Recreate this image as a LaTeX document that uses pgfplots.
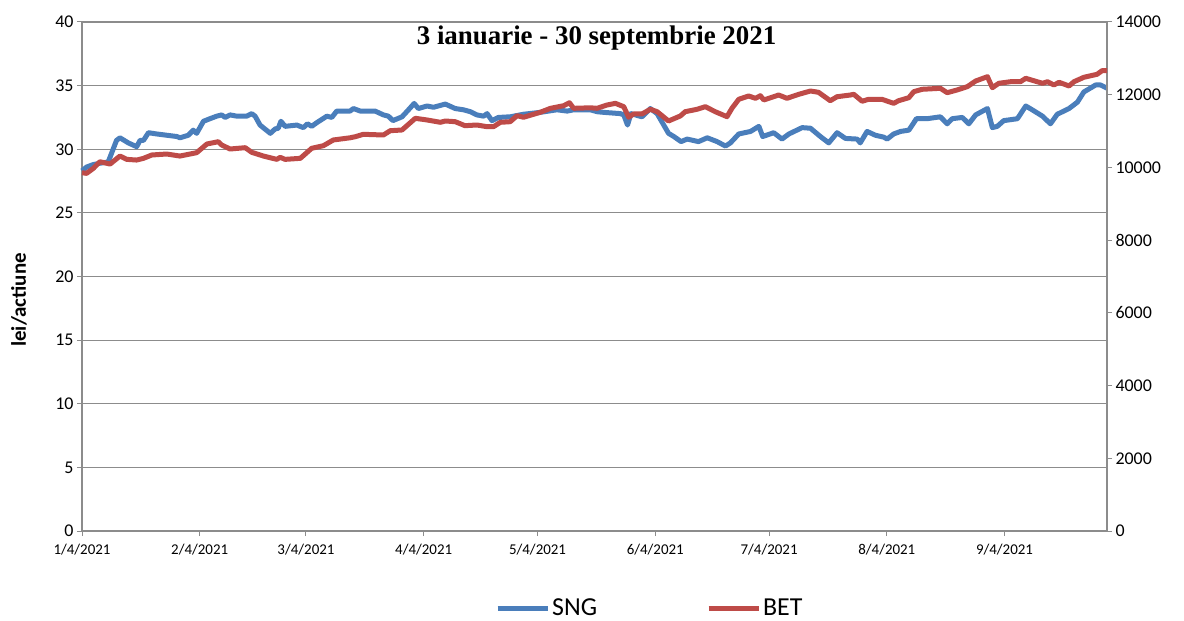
\documentclass[border=0pt]{standalone}
\usepackage{pgfplots}
\pgfplotsset{compat=1.18}
\usepackage{fontspec}
\setmainfont{Carlito}
\newfontfamily\timesf{Liberation Serif}
\definecolor{sngc}{HTML}{4A7EBB}
\definecolor{betc}{HTML}{BE4B48}
\definecolor{gridc}{HTML}{8C8C8C}
\begin{document}
\begin{tikzpicture}
\begin{axis}[
  name=ax,
  scale only axis, width=1025bp, height=509bp,
  xmin=0, xmax=270, ymin=0, ymax=40,
  axis y line*=left, axis x line*=bottom,
  axis line style={gridc, line width=1.2bp},
  xtick={0,31,59,90,120,151,181,212,243},
  xticklabels={1/4/2021,2/4/2021,3/4/2021,4/4/2021,5/4/2021,6/4/2021,7/4/2021,8/4/2021,9/4/2021},
  x tick label style={font=\fontsize{15}{17}\selectfont, yshift=-5bp},
  ytick={0,5,...,40},
  y tick label style={font=\fontsize{18}{20}\selectfont},
  /pgf/number format/assume math mode=true,
  tick style={gridc, line width=1bp},
  tick align=outside, major tick length=5bp,
  ymajorgrids, grid style={gridc, line width=1.2bp},
  clip=false,
]
\addplot[sngc, line width=5bp, line join=round] coordinates {
(0,28.3)(1.2,28.6)(3.0,28.8)(4.7,28.9)(6.9,29.0)(9.1,30.7)(10.0,30.9)(12.2,30.5)(14.4,30.2)(15.3,30.7)(16.2,30.7)(17.5,31.3)(19.7,31.2)(25.0,31.0)(25.8,30.9)(28.0,31.1)(29.3,31.5)(30.2,31.25)(32.0,32.2)(33.7,32.4)(35.5,32.6)(36.8,32.7)(37.7,32.5)(39.0,32.7)(40.8,32.6)(43.4,32.6)(44.7,32.8)(45.6,32.6)(46.9,31.9)(49.6,31.25)(50.9,31.6)(51.7,31.65)(52.4,32.2)(53.5,31.8)(56.6,31.9)(58.3,31.7)(59.4,32.0)(60.5,31.8)(61.9,32.1)(64.5,32.6)(65.8,32.5)(67.1,33.0)(70.6,33.0)(71.5,33.2)(73.3,33.0)(77.2,33.0)(79.4,32.7)(80.7,32.6)(81.9,32.25)(84.3,32.55)(86.0,33.1)(87.5,33.6)(88.6,33.2)(90.9,33.4)(92.6,33.3)(95.7,33.55)(98.3,33.2)(100.5,33.1)(102.3,32.95)(104.0,32.7)(105.8,32.6)(106.7,32.8)(108.0,32.25)(109.7,32.5)(112.8,32.55)(116.3,32.75)(120.7,32.9)(125.1,33.1)(127.8,33.0)(129.5,33.1)(133.9,33.1)(135.7,32.95)(137.4,32.9)(141.8,32.8)(142.7,32.7)(143.7,31.9)(144.6,32.8)(147.5,32.55)(149.7,33.2)(151.5,32.8)(154.5,31.25)(155.9,31.0)(157.8,30.6)(159.4,30.8)(162.4,30.6)(164.7,30.9)(167.3,30.6)(169.5,30.25)(170.8,30.5)(173.0,31.2)(176.1,31.4)(178.3,31.8)(179.3,31.0)(182.2,31.3)(184.4,30.8)(186.2,31.2)(189.7,31.7)(191.9,31.65)(194.5,31.0)(196.7,30.5)(198.9,31.3)(201.1,30.85)(204.2,30.8)(205.0,30.5)(206.8,31.4)(209.0,31.1)(211.2,30.95)(212.1,30.8)(213.8,31.2)(215.6,31.4)(217.8,31.5)(219.8,32.4)(222.6,32.4)(226.1,32.55)(227.9,32.0)(229.2,32.4)(231.9,32.5)(233.6,32.0)(235.4,32.7)(238.5,33.2)(239.8,31.7)(241.1,31.8)(242.8,32.25)(246.4,32.4)(248.6,33.4)(250.3,33.1)(253.0,32.6)(255.1,32.0)(256.9,32.75)(260.0,33.2)(262.2,33.7)(263.9,34.5)(267.0,35.05)(268.3,35.05)(270.0,34.8)
};
\node[font=\timesf\bfseries\fontsize{27}{30}\selectfont] at (rel axis cs:0.502,0.968) {3 ianuarie - 30 septembrie 2021};
\node[rotate=90, font=\bfseries\fontsize{21}{24}\selectfont] at ([xshift=-63bp]rel axis cs:0,0.454) {lei/actiune};
\end{axis}
\begin{axis}[
  scale only axis, width=1025bp, height=509bp,
  xmin=0, xmax=270, ymin=0, ymax=14000,
  axis y line*=right, axis x line=none,
  axis line style={gridc, line width=1.2bp},
  ytick={0,2000,...,14000},
  y tick label style={font=\fontsize{18}{20}\selectfont},
  /pgf/number format/assume math mode=true,
  /pgf/number format/1000 sep={},
  scaled y ticks=false,
  tick style={gridc, line width=1bp},
  tick align=outside, major tick length=5bp,
  legend style={at={(axis description cs:0.554,0)}, anchor=center, yshift=-77bp,
    draw=none, fill=none, legend columns=2, font=\fontsize{26}{28}\selectfont,
    /tikz/every even column/.append style={column sep=107bp}},
  legend image code/.code={\draw[#1] (0bp,0bp) -- (50bp,0bp);},
  clip=false,
]
\addlegendimage{sngc, line width=5bp}
\addlegendentry{SNG}
\addplot[betc, line width=5bp, line join=round] coordinates {
(0,9854)(1.2,9837)(3.0,9975)(4.7,10157)(7.4,10093)(10.0,10313)(11.8,10222)(14.4,10203)(16.2,10250)(18.4,10342)(22.3,10369)(25.8,10313)(30.2,10405)(32.9,10644)(35.9,10708)(36.8,10617)(39.0,10507)(43.0,10543)(44.7,10416)(47.8,10313)(51.3,10222)(52.2,10278)(53.5,10222)(57.5,10250)(58.8,10369)(60.5,10526)(63.6,10598)(66.2,10755)(70.6,10815)(72.0,10845)(74.1,10911)(79.4,10892)(81.2,11010)(84.3,11030)(87.8,11351)(90.9,11305)(94.4,11241)(95.7,11277)(98.3,11258)(100.9,11148)(104.0,11167)(106.7,11120)(108.4,11120)(110.2,11241)(112.8,11258)(114.6,11423)(116.3,11379)(120.7,11516)(123.4,11626)(126.9,11698)(128.4,11780)(129.5,11626)(133.9,11640)(135.7,11626)(138.3,11717)(140.5,11763)(142.7,11671)(144.0,11379)(145.3,11470)(147.5,11470)(149.7,11599)(151.5,11533)(154.5,11277)(157.6,11415)(158.9,11533)(162.0,11599)(164.2,11671)(166.8,11533)(169.9,11396)(171.2,11626)(173.0,11874)(175.6,11965)(177.4,11901)(178.7,11973)(179.6,11855)(183.5,11992)(185.7,11901)(188.8,12011)(191.9,12102)(194.0,12066)(197.1,11835)(198.9,11945)(202.4,11992)(203.3,12011)(205.5,11820)(207.2,11874)(210.7,11874)(213.8,11763)(215.1,11835)(217.8,11918)(219.1,12083)(221.3,12149)(226.1,12176)(227.9,12056)(230.5,12130)(233.2,12221)(235.4,12377)(238.5,12496)(239.8,12193)(241.5,12314)(244.6,12358)(247.2,12358)(248.6,12451)(253.0,12314)(254.3,12358)(256.0,12267)(257.4,12341)(260.0,12240)(261.3,12358)(263.9,12479)(267.4,12562)(268.7,12661)(270.0,12661)
};
\addlegendentry{BET}
\end{axis}
\pgfresetboundingbox
\path[use as bounding box] ([shift={(-82bp,-89bp)}]ax.south west) rectangle ([shift={(77bp,22bp)}]ax.north east);
\end{tikzpicture}
\end{document}
